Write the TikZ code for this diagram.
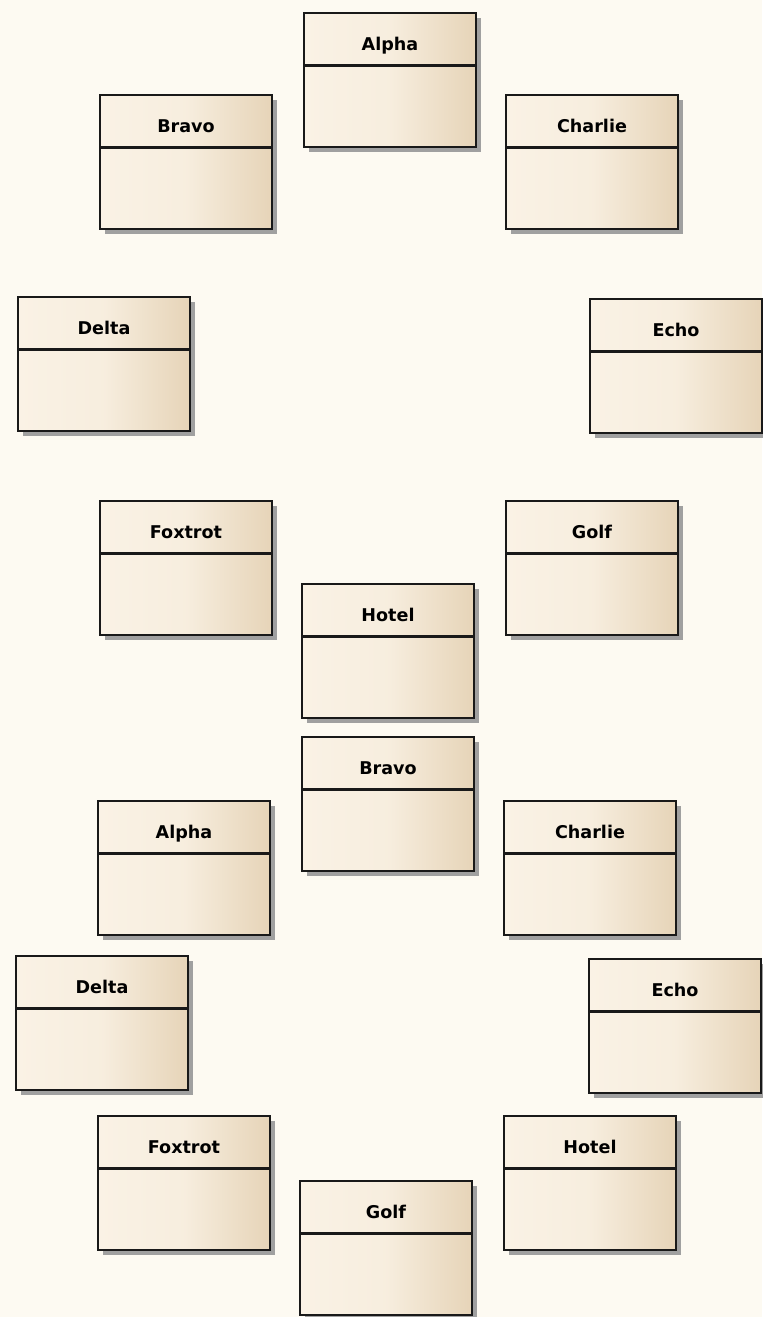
\documentclass[tikz,border=0pt]{standalone}
\usepackage{fontspec}
\setmainfont{DejaVu Sans}
\usetikzlibrary{shadows}
\definecolor{canvas}{RGB}{253,250,242}
\definecolor{boxlight}{RGB}{250,242,229}
\definecolor{boxdark}{RGB}{230,212,184}
\definecolor{shadowgray}{RGB}{160,160,160}
\tikzset{
  classbox/.style={draw=black!90, line width=0.9pt, left color=boxlight, right color=boxdark,
    middle color=boxlight!85!boxdark,
    minimum width=3.44cm, minimum height=2.68cm, inner sep=0pt,
    text height=0.74cm, text depth=1.94cm, font=\bfseries\fontsize{10}{12}\selectfont,
    drop shadow={shadow xshift=0.1cm, shadow yshift=-0.1cm, fill=shadowgray, opacity=1},
    path picture={\draw[black!90, line width=1.2pt]
      ([yshift=-1.05cm]path picture bounding box.north west) --
      ([yshift=-1.05cm]path picture bounding box.north east);}}
}
\begin{document}
\begin{tikzpicture}[x=0.02cm, y=-0.02cm]
\fill[canvas] (0,0) rectangle (762,1317);
\useasboundingbox (0,0) rectangle (762,1317);
% upper ring
\node[classbox] (alpha1) at (390,80) {Alpha};
\node[classbox] (bravo1) at (186,162) {Bravo};
\node[classbox] (charlie1) at (592,162) {Charlie};
\node[classbox] (delta1) at (104,364) {Delta};
\node[classbox] (echo1) at (676,366) {Echo};
\node[classbox] (foxtrot1) at (186,568) {Foxtrot};
\node[classbox] (golf1) at (592,568) {Golf};
\node[classbox] (hotel1) at (388,651) {Hotel};
% lower ring
\node[classbox] (bravo2) at (388,804) {Bravo};
\node[classbox] (alpha2) at (184,868) {Alpha};
\node[classbox] (charlie2) at (590,868) {Charlie};
\node[classbox] (delta2) at (102,1023) {Delta};
\node[classbox] (echo2) at (675,1026) {Echo};
\node[classbox] (foxtrot2) at (184,1183) {Foxtrot};
\node[classbox] (hotel2) at (590,1183) {Hotel};
\node[classbox] (golf2) at (386,1248) {Golf};
\end{tikzpicture}
\end{document}
